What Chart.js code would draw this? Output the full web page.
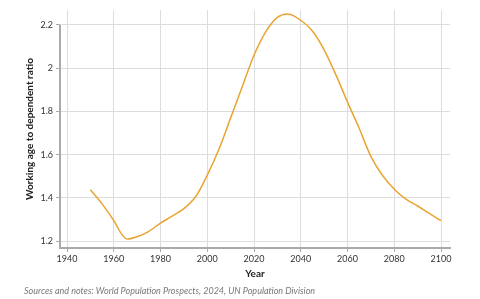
<!DOCTYPE html>
<html>
<head>
<meta charset="utf-8">
<script src="https://cdn.jsdelivr.net/npm/chart.js@4"></script>
<style>
body { margin: 0; background: #fff; }
#wrap { width: 480px; height: 299px; position: relative; }
</style>
</head>
<body>
<div id="wrap"><canvas id="myChart" width="480" height="299"></canvas></div>
<script>
// years and ratio
var years = [1950, 1955, 1960, 1965, 1970, 1975, 1980, 1985, 1990, 1995,
	2000, 2005, 2010, 2015, 2020, 2025, 2030, 2035, 2040, 2045,
	2050, 2055, 2060, 2065, 2070, 2075, 2080, 2085, 2090, 2095, 2100];
var ratio = [1.437, 1.372, 1.295, 1.212, 1.22, 1.245, 1.283, 1.315, 1.35, 1.405,
	1.505, 1.625, 1.77, 1.915, 2.06, 2.168, 2.235, 2.25, 2.222, 2.172,
	2.085, 1.97, 1.843, 1.722, 1.592, 1.503, 1.44, 1.394, 1.362, 1.328, 1.294];
var xTicks = [1940, 1960, 1980, 2000, 2020, 2040, 2060, 2080, 2100];
var yTicks = [1.2, 1.4, 1.6, 1.8, 2, 2.2];

var points = [];
for (var i = 0; i < years.length; i++)
{
	points.push({x: years[i], y: ratio[i]});
}

var FONT = "Lato, 'Open Sans', sans-serif";

// y axis line only from top tick down, plus the source note
var extras = {
	id: 'extras',
	afterDraw: function(chart)
	{
		var ctx = chart.ctx;
		var area = chart.chartArea;
		var ys = chart.scales.y;
		ctx.save();
		ctx.strokeStyle = '#aaaaaa';
		ctx.lineWidth = 2;
		ctx.beginPath();
		ctx.moveTo(area.left, ys.getPixelForValue(yTicks[yTicks.length - 1]));
		ctx.lineTo(area.left, area.bottom + 1);
		ctx.stroke();
		ctx.fillStyle = '#777777';
		ctx.font = 'italic 9px ' + FONT;
		ctx.textBaseline = 'middle';
		ctx.textAlign = 'left';
		ctx.fillText('Sources and notes: World Population Prospects, 2024, UN Population Division', 24, 291);
		ctx.restore();
	}
};

var myChart = new Chart(document.getElementById('myChart').getContext('2d'), {
	type: 'line',
	data: {
		datasets: [{
			data: points,
			borderColor: '#e9a431',
			borderWidth: 1.5,
			pointRadius: 0,
			fill: false,
			tension: 0.35
		}]
	},
	options: {
		responsive: false,
		animation: false,
		layout: {padding: {left: 0, right: 30, top: 10, bottom: 19}},
		plugins: {legend: {display: false}, tooltip: {enabled: false}},
		scales: {
			x: {
				type: 'linear',
				min: 1937,
				max: 2103.85,
				afterBuildTicks: function(scale) { scale.ticks = xTicks.map(function(v) { return {value: v}; }); },
				afterFit: function(scale) { scale.height = 32; },
				grid: {color: '#dddddd', lineWidth: 1, tickLength: 4, tickColor: '#aaaaaa', drawTicks: true},
				border: {color: '#aaaaaa', width: 2},
				ticks: {
					color: '#333333',
					font: {family: FONT, size: 9},
					padding: 2,
					maxRotation: 0,
					callback: function(v) { return String(v); }
				},
				title: {
					display: true,
					text: 'Year',
					color: '#222222',
					font: {family: FONT, size: 10, weight: 'bold'},
					padding: {top: 0, bottom: 0}
				}
			},
			y: {
				min: 1.1676,
				max: 2.2694,
				afterBuildTicks: function(scale) { scale.ticks = yTicks.map(function(v) { return {value: v}; }); },
				afterFit: function(scale) { scale.width = 60; },
				grid: {color: '#dddddd', lineWidth: 1, tickLength: 4, tickColor: '#aaaaaa'},
				border: {display: false},
				ticks: {
					color: '#333333',
					font: {family: FONT, size: 9},
					padding: 3,
					callback: function(v) { return String(Math.round(v * 10) / 10); }
				},
				title: {
					display: true,
					text: 'Working age to dependent ratio',
					color: '#222222',
					font: {family: FONT, size: 10, weight: 'bold'},
					padding: {top: 24, bottom: 0}
				}
			}
		}
	},
	plugins: [extras]
});
</script>
</body>
</html>
